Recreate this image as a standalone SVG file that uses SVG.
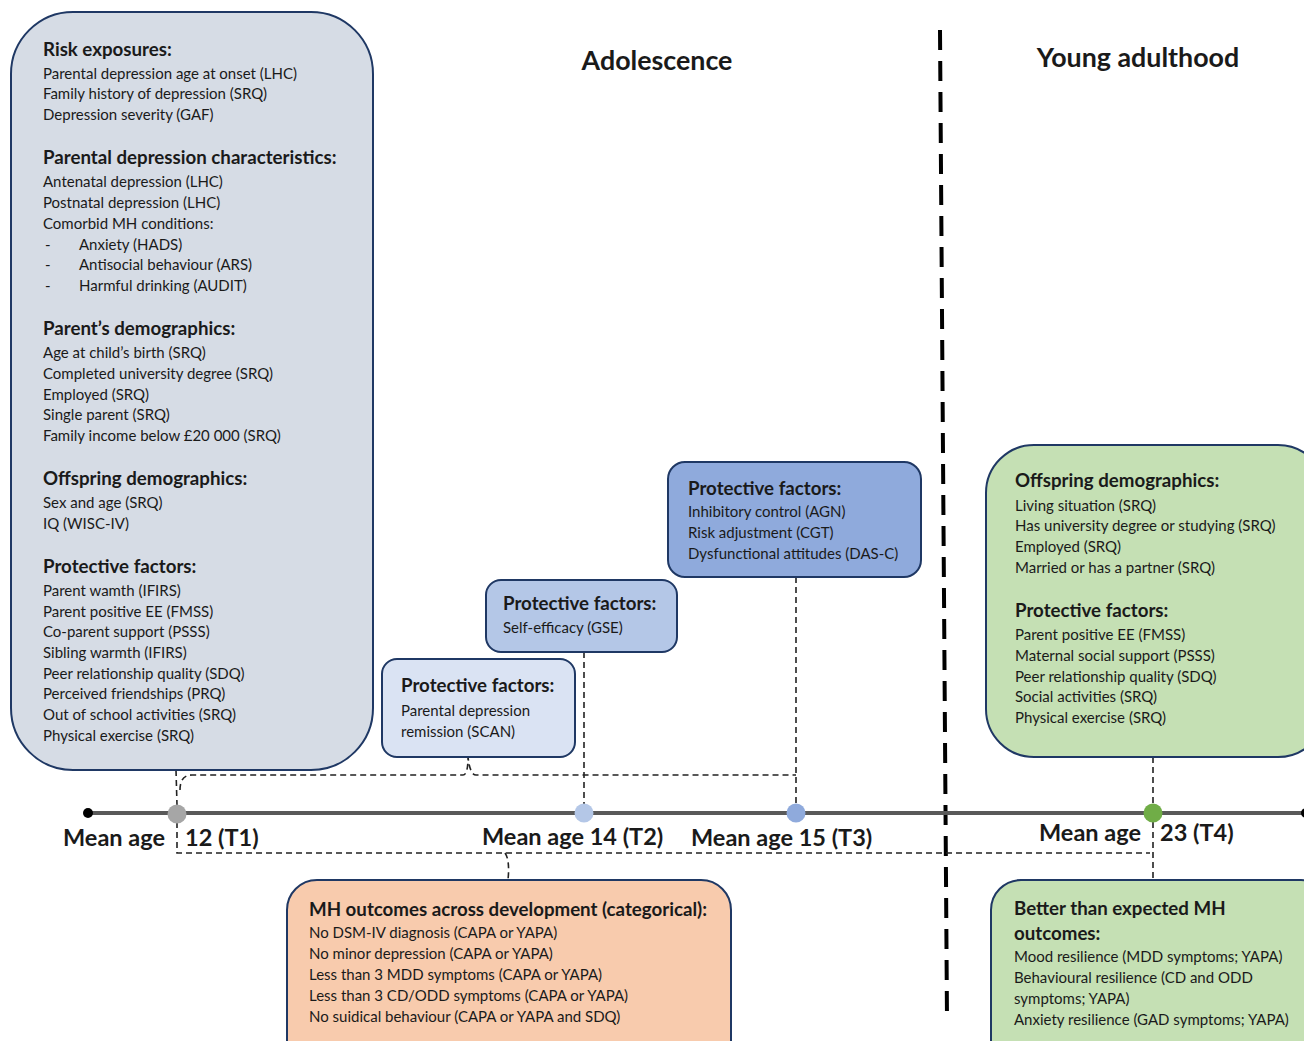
<svg xmlns="http://www.w3.org/2000/svg" width="1304" height="1041" viewBox="0 0 1304 1041">
<style>
text{font-family:Lato,"Liberation Sans",sans-serif;fill:#1a1a1a}
.h{font-weight:bold;font-size:18.7px}
.t{font-size:15px}
.big{font-weight:bold;font-size:26.8px}
.age{font-weight:bold;font-size:23.5px}
.box{stroke:#1f3864;stroke-width:2}
.dash{fill:none;stroke:#222;stroke-width:1.6;stroke-dasharray:6 4}
</style>
<rect width="1304" height="1041" fill="#fff"/>

<text class="big" x="657" y="70" text-anchor="middle">Adolescence</text>
<text class="big" x="1138" y="67" text-anchor="middle">Young adulthood</text>

<g id="connectors">
<line x1="940" y1="30" x2="947" y2="1020" stroke="#000" stroke-width="4" stroke-dasharray="20 11"/>
<path class="dash" d="M176 770 L177 805"/>
<path class="dash" d="M180 790 Q180 775 192 775 L463 775 Q468 775 468 757 Q470 775 476 775 L796 775"/>
<path class="dash" d="M584 652 L584 805"/>
<path class="dash" d="M796 577 L796 805"/>
<path class="dash" d="M1153 757 L1153 805"/>
<path class="dash" d="M177 822 L177 853 L1150 853"/>
<path class="dash" d="M505 853 Q510 860 508 880"/>
<path class="dash" d="M1153 822 L1153 880"/>
<line x1="88" y1="813" x2="1304" y2="813" stroke="#595959" stroke-width="4"/>
</g>

<g id="t0"><circle cx="88" cy="813" r="5" fill="#000"/></g>
<g id="t1"><circle cx="177" cy="814" r="9.5" fill="#a6a6a6"/>
<text class="age" x="63" y="846">Mean age</text><text class="age" x="185" y="846">12 (T1)</text></g>
<g id="t2"><circle cx="584" cy="813" r="9.5" fill="#b4c7e7"/>
<text class="age" x="482" y="845">Mean age 14 (T2)</text></g>
<g id="t3"><circle cx="796" cy="813" r="9.5" fill="#8faadc"/>
<text class="age" x="691" y="846">Mean age 15 (T3)</text></g>
<g id="t4"><circle cx="1153" cy="813" r="9.5" fill="#70ad47"/>
<text class="age" x="1039" y="841">Mean age</text><text class="age" x="1160" y="841">23 (T4)</text>
<circle cx="1306" cy="813" r="5" fill="#000"/></g>

<g id="left-box">
<rect class="box" x="11" y="12" width="362" height="758" rx="62" fill="#d6dce5"/>
<text class="h" x="43" y="56">Risk exposures:</text>
<text class="t" x="43" y="79">Parental depression age at onset (LHC)</text>
<text class="t" x="43" y="99">Family history of depression (SRQ)</text>
<text class="t" x="43" y="120">Depression severity (GAF)</text>
<text class="h" x="43" y="164">Parental depression characteristics:</text>
<text class="t" x="43" y="187">Antenatal depression (LHC)</text>
<text class="t" x="43" y="208">Postnatal depression (LHC)</text>
<text class="t" x="43" y="229">Comorbid MH conditions:</text>
<text class="t" x="45" y="250">-</text><text class="t" x="79" y="250">Anxiety (HADS)</text>
<text class="t" x="45" y="270">-</text><text class="t" x="79" y="270">Antisocial behaviour (ARS)</text>
<text class="t" x="45" y="291">-</text><text class="t" x="79" y="291">Harmful drinking (AUDIT)</text>
<text class="h" x="43" y="335">Parent’s demographics:</text>
<text class="t" x="43" y="358">Age at child’s birth (SRQ)</text>
<text class="t" x="43" y="379">Completed university degree (SRQ)</text>
<text class="t" x="43" y="400">Employed (SRQ)</text>
<text class="t" x="43" y="420">Single parent (SRQ)</text>
<text class="t" x="43" y="441">Family income below £20 000 (SRQ)</text>
<text class="h" x="43" y="485">Offspring demographics:</text>
<text class="t" x="43" y="508">Sex and age (SRQ)</text>
<text class="t" x="43" y="529">IQ (WISC-IV)</text>
<text class="h" x="43" y="573">Protective factors:</text>
<text class="t" x="43" y="596">Parent wamth (IFIRS)</text>
<text class="t" x="43" y="617">Parent positive EE (FMSS)</text>
<text class="t" x="43" y="637">Co-parent support (PSSS)</text>
<text class="t" x="43" y="658">Sibling warmth (IFIRS)</text>
<text class="t" x="43" y="679">Peer relationship quality (SDQ)</text>
<text class="t" x="43" y="699">Perceived friendships (PRQ)</text>
<text class="t" x="43" y="720">Out of school activities (SRQ)</text>
<text class="t" x="43" y="741">Physical exercise (SRQ)</text>
</g>

<g id="scan-box">
<rect class="box" x="382" y="659" width="193" height="98" rx="15" fill="#dae3f3"/>
<text class="h" x="401" y="692">Protective factors:</text>
<text class="t" x="401" y="716">Parental depression</text>
<text class="t" x="401" y="737">remission (SCAN)</text>
</g>

<g id="gse-box">
<rect class="box" x="486" y="580" width="191" height="72" rx="15" fill="#b4c7e7"/>
<text class="h" x="503" y="610">Protective factors:</text>
<text class="t" x="503" y="633">Self-efficacy (GSE)</text>
</g>

<g id="t3-box">
<rect class="box" x="668" y="462" width="253" height="115" rx="17" fill="#8faadc"/>
<text class="h" x="688" y="495">Protective factors:</text>
<text class="t" x="688" y="517">Inhibitory control (AGN)</text>
<text class="t" x="688" y="538">Risk adjustment (CGT)</text>
<text class="t" x="688" y="559">Dysfunctional attitudes (DAS-C)</text>
</g>

<g id="ya-box">
<rect class="box" x="986" y="445" width="340" height="312" rx="48" fill="#c5e0b4"/>
<text class="h" x="1015" y="487">Offspring demographics:</text>
<text class="t" x="1015" y="511">Living situation (SRQ)</text>
<text class="t" x="1015" y="531">Has university degree or studying (SRQ)</text>
<text class="t" x="1015" y="552">Employed (SRQ)</text>
<text class="t" x="1015" y="573">Married or has a partner (SRQ)</text>
<text class="h" x="1015" y="617">Protective factors:</text>
<text class="t" x="1015" y="640">Parent positive EE (FMSS)</text>
<text class="t" x="1015" y="661">Maternal social support (PSSS)</text>
<text class="t" x="1015" y="682">Peer relationship quality (SDQ)</text>
<text class="t" x="1015" y="702">Social activities (SRQ)</text>
<text class="t" x="1015" y="723">Physical exercise (SRQ)</text>
</g>

<g id="mh-box">
<rect class="box" x="287" y="880" width="444" height="190" rx="30" fill="#f8cbad"/>
<text class="h" x="309" y="916">MH outcomes across development (categorical):</text>
<text class="t" x="309" y="938">No DSM-IV diagnosis (CAPA or YAPA)</text>
<text class="t" x="309" y="959">No minor depression (CAPA or YAPA)</text>
<text class="t" x="309" y="980">Less than 3 MDD symptoms (CAPA or YAPA)</text>
<text class="t" x="309" y="1001">Less than 3 CD/ODD symptoms (CAPA or YAPA)</text>
<text class="t" x="309" y="1022">No suidical behaviour (CAPA or YAPA and SDQ)</text>
</g>

<g id="better-box">
<rect class="box" x="991" y="880" width="340" height="190" rx="30" fill="#c5e0b4"/>
<text class="h" x="1014" y="915">Better than expected MH</text>
<text class="h" x="1014" y="940">outcomes:</text>
<text class="t" x="1014" y="962">Mood resilience (MDD symptoms; YAPA)</text>
<text class="t" x="1014" y="983">Behavioural resilience (CD and ODD</text>
<text class="t" x="1014" y="1004">symptoms; YAPA)</text>
<text class="t" x="1014" y="1025">Anxiety resilience (GAD symptoms; YAPA)</text>
</g>
</svg>
